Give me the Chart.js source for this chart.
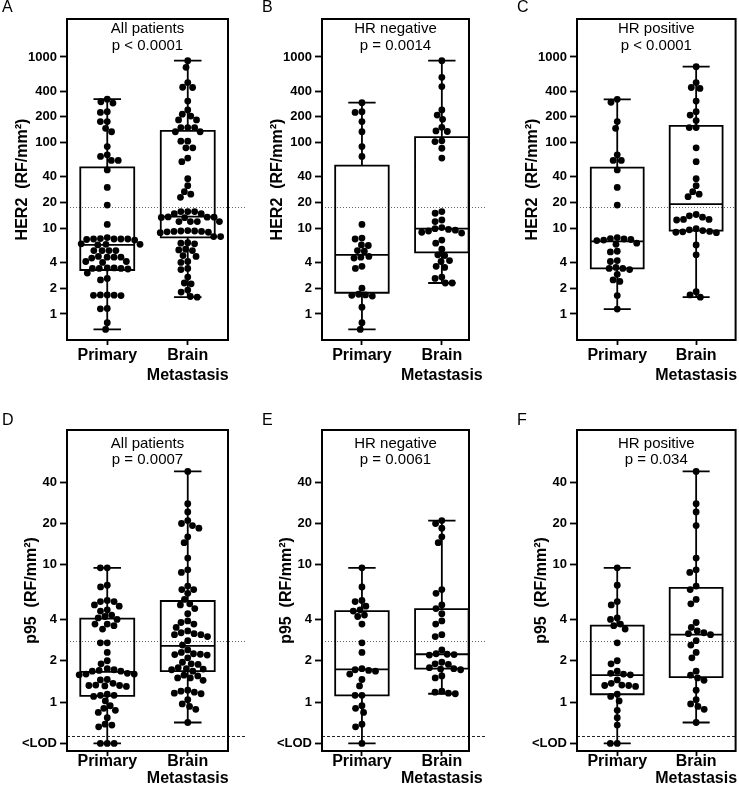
<!DOCTYPE html>
<html><head><meta charset="utf-8">
<script src="https://cdn.jsdelivr.net/npm/chart.js@4.4.1/dist/chart.umd.min.js"></script>
<style>
html,body{margin:0;padding:0;background:#fff;}
#wrap{position:relative;width:739px;height:789px;overflow:hidden;background:#fff;}
canvas{position:absolute;}
</style></head><body>
<div id="wrap">
<canvas id="cA" width="246" height="395" style="left:0px;top:0px"></canvas>
<canvas id="cB" width="246" height="395" style="left:246px;top:0px"></canvas>
<canvas id="cC" width="247" height="395" style="left:492px;top:0px"></canvas>
<canvas id="cD" width="246" height="394" style="left:0px;top:395px"></canvas>
<canvas id="cE" width="246" height="394" style="left:246px;top:395px"></canvas>
<canvas id="cF" width="247" height="394" style="left:492px;top:395px"></canvas>
</div>
<script>
// ---------- categories & ticks ----------
const categoryLabels = ['Primary', ['Brain', 'Metastasis']];
const her2TickValues = [1, 2, 4, 10, 20, 40, 100, 200, 400, 1000];
const her2TickText = ['1', '2', '4', '10', '20', '40', '100', '200', '400', '1000'];
const p95TickValues = [0.5, 1, 2, 4, 10, 20, 40];
const p95TickText = ['<LOD', '1', '2', '4', '10', '20', '40'];
const her2Cutoff = 17.8;
const p95Cutoff = 2.8;
const p95Lod = 0.57;

// ---------- HER2 values ----------
const her2PrimaryAll = [322, 300, 290, 230, 225, 176, 176, 147, 134, 90, 72, 69, 62, 62, 48, 30, 18.7, 11.1, 7.8, 7.6, 7.5, 7.5, 7.5, 7.5, 7.4, 7.3, 6.6, 6.5, 6.5, 6.4, 5.5, 5.5, 5.5, 5.5, 4.7, 4.6, 4.6, 4.6, 4.5, 4.1, 4.1, 4.0, 3.45, 3.45, 3.4, 3.4, 3.4, 3.35, 3.0, 2.6, 2.5, 1.67, 1.67, 1.66, 1.65, 1.64, 1.16, 1.15, 0.79, 0.66];
const her2BrainAll = [906, 757, 502, 443, 440, 306, 241, 215, 204, 184, 184, 150, 150, 150, 134, 134, 104, 104, 87, 87, 66, 60, 38, 31.5, 26.8, 25, 23, 15.7, 15.7, 15.7, 14.8, 14.8, 13.6, 13.5, 13.5, 13.4, 13.3, 12, 12, 12, 12, 9.4, 9.3, 9.3, 9.2, 9.2, 9.1, 9.0, 8.9, 8.0, 8.0, 6.8, 6.7, 6.6, 5.7, 5.6, 5.5, 4.8, 4.7, 4.1, 4.0, 3.4, 3.3, 2.7, 2.3, 2.25, 1.9, 1.8, 1.6, 1.57];
const her2PrimaryNeg = [293, 230, 225, 176, 134, 90, 69, 11.1, 7.7, 7.5, 6.4, 6.3, 5.5, 5.4, 4.7, 4.6, 4.5, 3.6, 3.4, 2.0, 1.7, 1.67, 1.65, 1.62, 1.2, 0.79, 0.66];
const her2BrainNeg = [906, 579, 451, 241, 210, 187, 151, 137, 135, 105, 103, 86, 66, 15.7, 15, 12.5, 12, 10.2, 9.9, 9.7, 9.5, 9.3, 9.0, 8.8, 7.3, 6.7, 5.7, 4.9, 4.8, 4.2, 4.1, 3.6, 3.5, 2.7, 2.6, 2.3, 2.3];
const her2PrimaryPos = [320, 296, 176, 147, 72, 62, 62, 48, 30, 18.7, 7.8, 7.6, 7.5, 7.4, 7.3, 7.2, 6.7, 6.5, 5.4, 5.3, 4.2, 4.1, 3.5, 3.4, 3.4, 3.3, 2.9, 2.5, 2.4, 1.64, 1.14];
const her2BrainPos = [771, 502, 440, 430, 306, 230, 210, 181, 150, 150, 87, 60, 38, 31.5, 26.8, 25, 23.4, 14.5, 14, 13.5, 12.7, 12.7, 12.5, 9.9, 9.6, 9.4, 9.2, 9.1, 9.0, 8.9, 6.4, 4.9, 1.82, 1.67, 1.57];

// ---------- p95 values (0.5 = <LOD) ----------
const p95PrimaryAll = [9.5, 9.5, 7.1, 6.9, 5.5, 5.4, 5.4, 5.1, 5.0, 4.7, 4.6, 4.3, 4.2, 4.1, 4.0, 3.7, 3.7, 3.6, 3.4, 2.7, 2.7, 2.3, 2.0, 1.9, 1.75, 1.72, 1.7, 1.68, 1.68, 1.62, 1.6, 1.6, 1.58, 1.46, 1.45, 1.37, 1.33, 1.32, 1.32, 1.31, 1.3, 1.14, 1.12, 1.12, 1.1, 1.02, 0.94, 0.9, 0.87, 0.84, 0.77, 0.69, 0.68, 0.66, 0.5, 0.5, 0.5];
const p95BrainAll = [47.9, 27.9, 24.3, 21, 20, 19.3, 18.5, 16, 14.5, 11.2, 9.2, 8.8, 7.0, 6.6, 6.6, 6.2, 5.6, 5.2, 5.1, 4.8, 4.4, 3.9, 3.8, 3.7, 3.5, 3.3, 3.2, 3.15, 3.1, 3.1, 3.0, 2.8, 2.6, 2.4, 2.3, 2.25, 2.23, 2.22, 2.2, 2.1, 1.95, 1.9, 1.88, 1.78, 1.75, 1.74, 1.72, 1.68, 1.57, 1.55, 1.5, 1.5, 1.44, 1.22, 1.2, 1.18, 1.16, 1.15, 1.04, 0.97, 0.93, 0.885, 0.71];
const p95PrimaryNeg = [9.5, 6.9, 5.5, 5.4, 5.0, 4.7, 4.6, 4.3, 4.2, 3.7, 2.7, 2.3, 1.75, 1.72, 1.7, 1.68, 1.6, 1.46, 1.31, 1.12, 1.12, 0.94, 0.90, 0.84, 0.69, 0.66, 0.5];
const p95BrainNeg = [21, 20, 18.5, 16, 14.5, 6.6, 6.2, 5.1, 4.8, 4.4, 3.9, 3.7, 3.1, 3.0, 2.4, 2.25, 2.23, 2.22, 2.2, 1.95, 1.9, 1.88, 1.78, 1.75, 1.74, 1.72, 1.55, 1.5, 1.2, 1.18, 1.16, 1.15];
const p95PrimaryPos = [9.5, 7.1, 5.4, 5.1, 4.1, 4.0, 3.7, 3.6, 3.4, 2.7, 2.0, 1.9, 1.68, 1.62, 1.6, 1.58, 1.45, 1.37, 1.33, 1.32, 1.32, 1.3, 1.14, 1.1, 1.02, 0.87, 0.77, 0.68, 0.5, 0.5];
const p95BrainPos = [47.9, 27.9, 24.3, 19.3, 11.2, 9.2, 8.8, 7.0, 6.6, 5.6, 5.2, 3.8, 3.5, 3.3, 3.2, 3.15, 3.1, 2.8, 2.6, 2.3, 2.1, 1.68, 1.57, 1.5, 1.44, 1.22, 1.04, 0.97, 0.93, 0.885, 0.71];

// ---------- box quartiles [q1, median, q3] for [Primary, Brain] ----------
const her2BoxAll = [[3.26, 6.4, 51.5], [7.86, 13.7, 137]];
const her2BoxNeg = [[1.77, 4.9, 54], [5.25, 9.9, 116]];
const her2BoxPos = [[3.41, 7.05, 51], [9.4, 19.2, 157]];
const p95BoxAll = [[1.11, 1.66, 4.06], [1.68, 2.57, 5.45]];
const p95BoxNeg = [[1.12, 1.73, 4.6], [1.75, 2.23, 4.75]];
const p95BoxPos = [[1.14, 1.57, 3.6], [1.52, 3.1, 6.8]];

// ---------- layout / style ----------
Chart.defaults.font.family = '"Liberation Sans", Arial, Helvetica, sans-serif';
Chart.defaults.color = '#000';
const FONT = '"Liberation Sans", Arial, Helvetica, sans-serif';
const BOX_HALF = 0.335, CAP_HALF = 0.16, DOT_R = 3.4, DOT_GAP = 6.9;

const cols = [
  {yw: 67, pr: 18, xmin: -0.5, xmax: 1.5, letterX: 2, ext: 20},
  {yw: 76, pr: 23, xmin: -0.5, xmax: 1.34, letterX: 16, ext: 18},
  {yw: 85, pr: 1, xmin: -0.51, xmax: 1.5, letterX: 25, ext: 0}
];
const rows = [
  {pt: 19, xh: 55, letterY: 8, titleOff: 44, t1: 10, t2: 27, lh: 20, xpad: 1,
   ymin: 0.497, ymax: 2775, ticks: her2TickValues, tickText: her2TickText, ytitle: 'HER2  (RF/mm²)'},
  {pt: 35, xh: 38, letterY: 26, titleOff: 35, t1: 14, t2: 30, lh: 17, xpad: -2.5,
   ymin: 0.44, ymax: 96, ticks: p95TickValues, tickText: p95TickText, ytitle: 'p95  (RF/mm²)'}
];

const panels = [
  {id: 'cA', letter: 'A', title: ['All patients', 'p < 0.0001'], data: [her2PrimaryAll, her2BrainAll], box: her2BoxAll, row: 0, col: 0},
  {id: 'cB', letter: 'B', title: ['HR negative', 'p = 0.0014'], data: [her2PrimaryNeg, her2BrainNeg], box: her2BoxNeg, row: 0, col: 1},
  {id: 'cC', letter: 'C', title: ['HR positive', 'p < 0.0001'], data: [her2PrimaryPos, her2BrainPos], box: her2BoxPos, row: 0, col: 2},
  {id: 'cD', letter: 'D', title: ['All patients', 'p = 0.0007'], data: [p95PrimaryAll, p95BrainAll], box: p95BoxAll, row: 1, col: 0},
  {id: 'cE', letter: 'E', title: ['HR negative', 'p = 0.0061'], data: [p95PrimaryNeg, p95BrainNeg], box: p95BoxNeg, row: 1, col: 1},
  {id: 'cF', letter: 'F', title: ['HR positive', 'p = 0.034'], data: [p95PrimaryPos, p95BrainPos], box: p95BoxPos, row: 1, col: 2}
];

function boxSegments(values, q, g) {
  const lo = Math.min(...values), hi = Math.max(...values);
  const [q1, med, q3] = q;
  const w = BOX_HALF, c = CAP_HALF;
  const gap = () => ({x: g, y: null});
  return [
    {x: g - w, y: q1}, {x: g + w, y: q1}, {x: g + w, y: q3}, {x: g - w, y: q3}, {x: g - w, y: q1}, gap(),
    {x: g - w, y: med}, {x: g + w, y: med}, gap(),
    {x: g, y: q3}, {x: g, y: hi}, gap(),
    {x: g - c, y: hi}, {x: g + c, y: hi}, gap(),
    {x: g, y: lo}, {x: g, y: q1}, gap(),
    {x: g - c, y: lo}, {x: g + c, y: lo}, gap()
  ];
}

function swarm(values, yScale, d) {
  const items = values.map((v, i) => ({i, y: yScale.getPixelForValue(v)})).sort((a, b) => a.y - b.y);
  const placed = [];
  const out = new Array(values.length);
  for (const it of items) {
    const iv = [];
    for (const p of placed) {
      const dy = Math.abs(p.y - it.y);
      if (dy < d) { const w = Math.sqrt(d * d - dy * dy); iv.push([p.x - w, p.x + w]); }
    }
    const cands = [0];
    iv.forEach(([a, b]) => cands.push(a, b));
    cands.sort((a, b) => Math.abs(a) - Math.abs(b) || a - b);
    let x = 0;
    for (const c of cands) {
      if (iv.every(([a, b]) => c <= a + 1e-6 || c >= b - 1e-6)) { x = c; break; }
    }
    placed.push({x, y: it.y});
    out[it.i] = x;
  }
  return out;
}

function makeDecor(p, row, col, refLines) {
  return {
    id: 'decor' + p.letter,
    beforeDatasetsDraw(chart) {
      const {ctx, chartArea: a, scales: {y}} = chart;
      ctx.save();
      refLines.forEach(r => {
        const py = Math.round(y.getPixelForValue(r.value)) + 0.5;
        ctx.beginPath();
        ctx.setLineDash(r.dash);
        ctx.lineWidth = 1;
        ctx.strokeStyle = r.color;
        ctx.moveTo(a.left, py);
        ctx.lineTo(a.right + col.ext, py);
        ctx.stroke();
      });
      ctx.setLineDash([]);
      ctx.lineWidth = 2;
      ctx.strokeStyle = '#000';
      ctx.strokeRect(a.left, a.top, a.right - a.left, a.bottom - a.top);
      ctx.fillStyle = '#000';
      ctx.font = '15px ' + FONT;
      ctx.textAlign = 'center';
      ctx.textBaseline = 'middle';
      const cx = (a.left + a.right) / 2;
      ctx.fillText(p.title[0], cx, a.top + row.t1);
      ctx.fillText(p.title[1], cx, a.top + row.t2);
      ctx.textAlign = 'left';
      ctx.font = '16px ' + FONT;
      ctx.fillText(p.letter, col.letterX, row.letterY);
      ctx.restore();
    }
  };
}

panels.forEach(p => {
  const row = rows[p.row], col = cols[p.col];
  const refLines = p.row === 0
    ? [{value: her2Cutoff, dash: [1, 2], color: '#666'}]
    : [{value: p95Cutoff, dash: [1, 2], color: '#666'}, {value: p95Lod, dash: [3, 2], color: '#222'}];
  const pts = [];
  p.data.forEach((vals, g) => vals.forEach(v => pts.push({x: g, y: v})));
  const boxPts = [];
  p.data.forEach((vals, g) => boxPts.push(...boxSegments(vals, p.box[g], g)));
  const cfg = {
    type: 'scatter',
    data: {
      datasets: [
        {data: pts, order: 0, pointRadius: DOT_R, pointHoverRadius: DOT_R, backgroundColor: '#000', borderWidth: 0, showLine: false},
        {data: boxPts, order: 1, showLine: true, spanGaps: false, pointRadius: 0, pointHoverRadius: 0, borderColor: '#000', borderWidth: 1.8, borderCapStyle: 'square', borderJoinStyle: 'miter', fill: false, tension: 0}
      ]
    },
    options: {
      responsive: false, animation: false, events: [],
      layout: {padding: {left: 0, right: col.pr, top: row.pt, bottom: 0}},
      plugins: {legend: {display: false}, tooltip: {enabled: false}},
      scales: {
        x: {
          type: 'linear', min: col.xmin, max: col.xmax, bounds: 'data',
          afterBuildTicks: s => { s.ticks = [{value: 0}, {value: 1}]; },
          afterFit: s => { s.height = row.xh; s.paddingLeft = 0; s.paddingRight = 0; },
          ticks: {autoSkip: false, maxRotation: 0, minRotation: 0, color: '#000', padding: row.xpad,
                  font: {size: 16, weight: 'bold', lineHeight: row.lh / 16},
                  callback: (v, i) => categoryLabels[i]},
          grid: {display: true, drawOnChartArea: false, drawTicks: true, tickLength: 5, tickWidth: 1.8, tickColor: '#000'},
          border: {display: false}
        },
        y: {
          type: 'logarithmic', min: row.ymin, max: row.ymax, bounds: 'data',
          afterBuildTicks: s => { s.ticks = row.ticks.map(v => ({value: v})); },
          afterFit: s => { s.width = col.yw; s.paddingTop = 0; s.paddingBottom = 0; },
          ticks: {autoSkip: false, color: '#000', padding: 3, font: {size: 13, weight: 'bold'},
                  callback: (v, i) => row.tickText[i]},
          grid: {display: true, drawOnChartArea: false, drawTicks: true, tickLength: 7, tickWidth: 1.8, tickColor: '#000'},
          border: {display: false},
          title: {display: true, text: row.ytitle, color: '#000',
                  font: {size: 16, weight: 'bold', lineHeight: 1.2},
                  padding: {top: col.yw - row.titleOff - 9.6, bottom: 0}}
        }
      }
    },
    plugins: [makeDecor(p, row, col, refLines)]
  };
  const chart = new Chart(document.getElementById(p.id), cfg);
  const xs = chart.scales.x, ys = chart.scales.y;
  const unit = xs.getPixelForValue(1) - xs.getPixelForValue(0);
  const jittered = [];
  p.data.forEach((vals, g) => {
    const off = swarm(vals, ys, DOT_GAP);
    vals.forEach((v, i) => jittered.push({x: g + off[i] / unit, y: v}));
  });
  chart.data.datasets[0].data = jittered;
  chart.update('none');
});
</script>
</body></html>
